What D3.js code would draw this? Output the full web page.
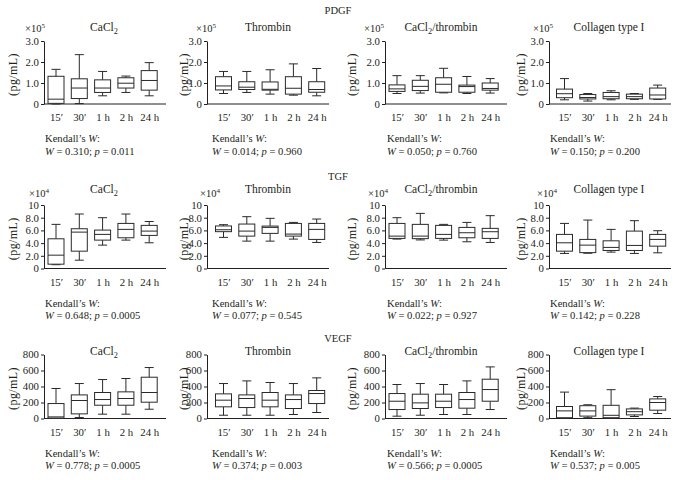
<!DOCTYPE html>
<html><head><meta charset="utf-8">
<script src="https://cdn.jsdelivr.net/npm/d3@7"></script>
<style>
body{margin:0;background:#fff}
svg{display:block}
text{font-family:"Liberation Serif","Times New Roman",serif;fill:#231f20}
</style>
</head><body>
<svg id="c" width="677" height="480"></svg>
<script>
// ---------- data ----------
const categories = ["15\u2032", "30\u2032", "1 h", "2 h", "24 h"];
const factors = ["PDGF", "TGF", "VEGF"];
const treatments = ["CaCl2", "Thrombin", "CaCl2/thrombin", "Collagen type I"];
const exponents = ["5", "4", null];
const yMax = [3, 10, 800];
const yTicksPDGF = [0, 1, 2, 3];
const yTicksTGF = [0, 2, 4, 6, 8, 10];
const yTicksVEGF = [0, 200, 400, 600, 800];

// each box: [min, q1, median, q3, max]
// PDGF (x10^5 pg/mL)
const pdgfCaCl2 = [[0.00,0.03,0.23,1.32,1.65],[0.02,0.26,0.76,1.20,2.35],[0.39,0.55,0.76,1.15,1.55],[0.55,0.76,0.99,1.25,1.33],[0.39,0.66,1.12,1.59,1.97]];
const pdgfThrombin = [[0.50,0.67,0.86,1.30,1.55],[0.55,0.69,0.80,1.06,1.55],[0.47,0.66,0.70,1.05,1.63],[0.42,0.47,0.75,1.30,1.91],[0.39,0.56,0.69,1.06,1.69]];
const pdgfCaCl2Thrombin = [[0.50,0.60,0.72,0.91,1.35],[0.52,0.64,0.84,1.13,1.35],[0.53,0.56,0.94,1.25,1.70],[0.50,0.56,0.83,0.90,1.31],[0.52,0.66,0.74,1.00,1.21]];
const pdgfCollagen = [[0.20,0.30,0.49,0.71,1.21],[0.14,0.24,0.31,0.45,0.50],[0.20,0.25,0.35,0.55,0.63],[0.22,0.25,0.35,0.47,0.50],[0.22,0.24,0.43,0.76,0.90]];
// TGF (x10^4 pg/mL)
const tgfCaCl2 = [[0.60,0.68,2.10,4.68,6.95],[1.31,2.73,5.73,6.26,8.58],[3.68,4.47,5.37,6.05,8.00],[4.47,4.84,6.16,7.10,8.58],[4.05,5.21,5.89,6.79,7.40]];
const tgfThrombin = [[4.90,5.80,6.10,6.70,6.90],[4.31,5.10,5.89,7.00,8.16],[4.31,5.53,6.47,6.68,7.90],[4.63,5.10,5.42,7.10,7.26],[4.10,4.58,6.16,7.10,7.79]];
const tgfCaCl2Thrombin = [[4.63,4.74,5.10,7.10,8.00],[4.50,4.70,5.10,6.95,8.68],[4.47,4.74,5.37,6.79,6.95],[4.21,4.84,5.63,6.47,7.26],[4.10,4.74,5.79,6.32,8.32]];
const tgfCollagen = [[2.37,2.73,4.05,5.37,7.10],[2.40,2.50,3.68,4.58,7.63],[2.58,2.84,3.32,4.36,6.16],[2.37,2.84,3.63,5.89,7.53],[2.47,3.52,4.58,5.37,5.95]];
// VEGF (pg/mL)
const vegfCaCl2 = [[0,5,20,187,375],[12,58,225,295,437],[54,166,237,325,487],[54,166,250,333,500],[116,204,325,516,637]];
const vegfThrombin = [[41,146,229,308,437],[41,137,250,295,470],[41,146,229,325,450],[50,125,237,295,437],[75,187,312,350,508]];
const vegfCaCl2Thrombin = [[29,112,216,312,425],[41,125,195,304,437],[50,137,216,304,425],[50,129,237,325,470],[112,216,362,491,645]];
const vegfCollagen = [[0,10,95,150,330],[10,30,95,160,172],[0,10,40,165,360],[25,45,85,120,130],[62,104,200,245,275]];

const kendallPDGF = [["0.310","0.011"],["0.014","0.960"],["0.050","0.760"],["0.150","0.200"]];
const kendallTGF = [["0.648","0.0005"],["0.077","0.545"],["0.022","0.927"],["0.142","0.228"]];
const kendallVEGF = [["0.778","0.0005"],["0.374","0.003"],["0.566","0.0005"],["0.537","0.005"]];

const rowsData = [
  [pdgfCaCl2, pdgfThrombin, pdgfCaCl2Thrombin, pdgfCollagen],
  [tgfCaCl2, tgfThrombin, tgfCaCl2Thrombin, tgfCollagen],
  [vegfCaCl2, vegfThrombin, vegfCaCl2Thrombin, vegfCollagen]
];
const rowsTicks = [yTicksPDGF, yTicksTGF, yTicksVEGF];
const rowsKendall = [kendallPDGF, kendallTGF, kendallVEGF];

// ---------- layout ----------
const panelX = [44, 207, 385, 549];
const boxOffset = [12, 16.5, 12, 15.5];
const step = 23.3;
const boxW = 16, capW = 9;
const rowY0 = [104, 268.5, 418.5];
const rowYTop = [41, 205, 354.5];
const rowLabelY = [14, 180, 342];
const titleY = [31, 193, 355];
const expY = [32, 197];
const expShift = [12, 16];
const titleCX = [104, 268, 441, 609];
const ylabCX = [13, 184, 352, 521];
const kendX = [45, 212, 387, 550];

const svg = d3.select("#c");

function rich(sel, segs, size) {
  segs.forEach(s => {
    const t = sel.append("tspan").text(s.t);
    if (s.sub) t.attr("font-size", size * 0.72).attr("dy", 3);
    else if (s.sup) t.attr("font-size", size * 0.68).attr("dy", -4.5);
    else if (s.after) t.attr("dy", s.after);
    if (s.i) t.attr("font-style", "italic");
  });
}
function titleSegs(name) {
  if (name === "CaCl2") return [{t:"CaCl"},{t:"2",sub:true}];
  if (name === "CaCl2/thrombin") return [{t:"CaCl"},{t:"2",sub:true},{t:"/thrombin",after:-3}];
  return [{t:name}];
}
const fmt = [
  d => d === 0 ? "0" : d.toFixed(1),
  d => d === 0 ? "0" : d === 10 ? "10" : d.toFixed(1),
  d => String(d)
];

factors.forEach((f, r) => {
  svg.append("text").attr("x", 338).attr("y", rowLabelY[r])
    .attr("text-anchor", "middle").attr("font-size", 10.5).text(f);

  treatments.forEach((tr, p) => {
    const ax = panelX[p];
    const y0 = rowY0[r], yT = rowYTop[r];
    const g = svg.append("g");
    const y = d3.scaleLinear().domain([0, yMax[r]]).range([y0, yT]);
    const x = d3.scalePoint().domain(categories)
      .range([ax + boxOffset[p], ax + boxOffset[p] + 4 * step]);

    // y axis
    const ya = g.append("g").attr("transform", `translate(${ax},0)`)
      .call(d3.axisLeft(y).tickValues(rowsTicks[r]).tickFormat(fmt[r]).tickSize(3).tickSizeOuter(0).tickPadding(2));
    ya.selectAll("text").attr("font-size", 10.8).attr("font-family", "Liberation Serif").attr("fill", "#231f20");
    ya.selectAll("line,path").attr("stroke", "#231f20");

    // x axis
    const xa = g.append("g").attr("transform", `translate(0,${y0})`)
      .call(d3.axisBottom(x).tickSize(0).tickPadding(9.5));
    xa.select(".domain").remove();
    xa.selectAll("text").attr("font-size", 10.8).attr("font-family", "Liberation Serif").attr("fill", "#231f20");
    g.append("line").attr("x1", ax).attr("x2", ax + 122).attr("y1", y0).attr("y2", y0)
      .attr("stroke", "#231f20");

    // boxes
    const data = rowsData[r][p].map((v, i) => ({c: categories[i], v}));
    const bx = g.append("g").attr("stroke", "#2a2a2a").attr("stroke-width", 1).attr("fill", "none");
    const b = bx.selectAll("g").data(data).join("g");
    b.append("line").attr("x1", d => x(d.c)).attr("x2", d => x(d.c))
      .attr("y1", d => y(d.v[4])).attr("y2", d => y(d.v[3]));
    b.append("line").attr("x1", d => x(d.c)).attr("x2", d => x(d.c))
      .attr("y1", d => y(d.v[1])).attr("y2", d => y(d.v[0]));
    b.append("line").attr("x1", d => x(d.c) - capW/2).attr("x2", d => x(d.c) + capW/2)
      .attr("y1", d => y(d.v[4])).attr("y2", d => y(d.v[4]));
    b.append("line").attr("x1", d => x(d.c) - capW/2).attr("x2", d => x(d.c) + capW/2)
      .attr("y1", d => y(d.v[0])).attr("y2", d => y(d.v[0]));
    b.append("rect").attr("x", d => x(d.c) - boxW/2).attr("width", boxW)
      .attr("y", d => y(d.v[3])).attr("height", d => y(d.v[1]) - y(d.v[3]))
      .attr("fill", "#fff");
    b.append("line").attr("x1", d => x(d.c) - boxW/2).attr("x2", d => x(d.c) + boxW/2)
      .attr("y1", d => y(d.v[2])).attr("y2", d => y(d.v[2]));

    // title
    const tt = g.append("text").attr("x", titleCX[p]).attr("y", titleY[r])
      .attr("text-anchor", "middle").attr("font-size", 11.5);
    rich(tt, titleSegs(tr), 11.5);

    // exponent
    if (exponents[r]) {
      const et = g.append("text").attr("x", ylabCX[p] + expShift[r]).attr("y", expY[r])
        .attr("font-size", 10.5);
      rich(et, [{t:"\u00d710"},{t:exponents[r],sup:true}], 10.5);
    }

    // y label
    g.append("text").attr("transform", `translate(${ylabCX[p] + 3.5},${(y0 + yT)/2 + 2}) rotate(-90)`)
      .attr("text-anchor", "middle").attr("font-size", 12).attr("letter-spacing", 0.4)
      .text("(pg/mL)");

    // Kendall
    const k1 = g.append("text").attr("x", kendX[p]).attr("y", y0 + 38).attr("font-size", 10.6);
    rich(k1, [{t:"Kendall\u2019s "},{t:"W",i:true},{t:":"}], 10.6);
    const kv = rowsKendall[r][p];
    const k2 = g.append("text").attr("x", kendX[p]).attr("y", y0 + 50.5).attr("font-size", 10.6);
    rich(k2, [{t:"W",i:true},{t:" = " + kv[0] + "; "},{t:"p",i:true},{t:" = " + kv[1]}], 10.6);
  });
});
</script>
</body></html>
